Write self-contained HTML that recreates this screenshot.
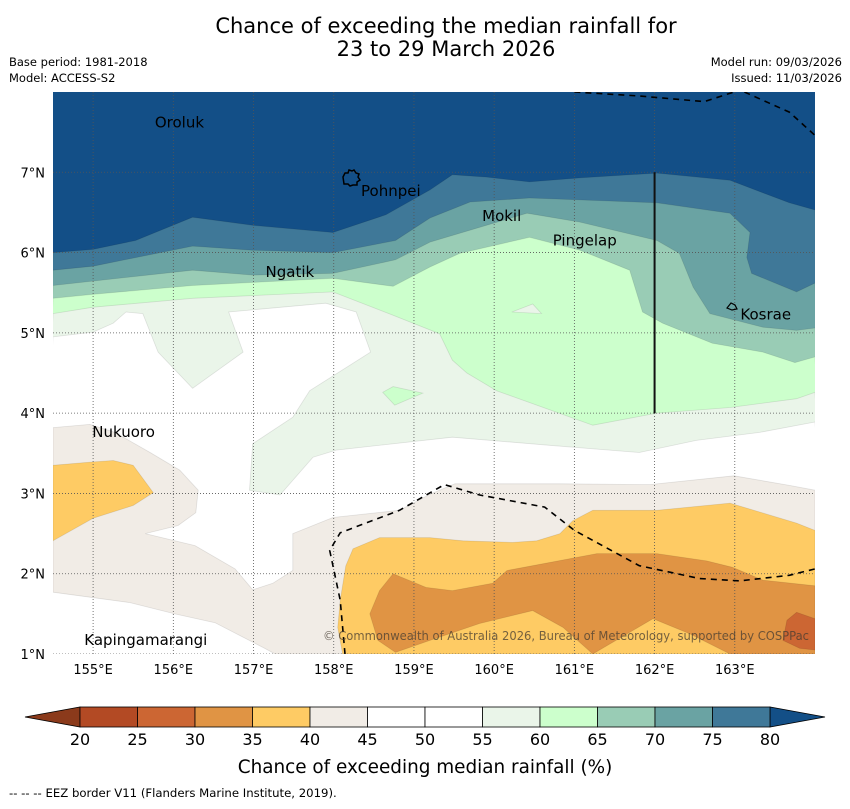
<!DOCTYPE html>
<html><head><meta charset="utf-8"><style>
body{margin:0;background:#fff;}
svg text{font-family:"DejaVu Sans","Liberation Sans",sans-serif;}
</style></head><body>
<svg id="chart" width="850" height="804" viewBox="0 0 850 804" xmlns="http://www.w3.org/2000/svg">
<rect width="850" height="804" fill="#fff"/>
<text x="446" y="33" font-size="21" text-anchor="middle">Chance of exceeding the median rainfall for</text>
<text x="446" y="56" font-size="21" text-anchor="middle">23 to 29 March 2026</text>
<text x="9" y="66" font-size="11.5">Base period: 1981-2018</text>
<text x="9" y="82" font-size="11.5">Model: ACCESS-S2</text>
<text x="842" y="66" font-size="11.5" text-anchor="end">Model run: 09/03/2026</text>
<text x="842" y="82" font-size="11.5" text-anchor="end">Issued: 11/03/2026</text>
<defs><clipPath id="mapclip"><rect x="53" y="92" width="762" height="562"/></clipPath></defs>
<g id="map" clip-path="url(#mapclip)"></g>
<g id="axes"></g>
<g id="cbar"></g>
<text x="425" y="773" font-size="18.4" text-anchor="middle">Chance of exceeding median rainfall (%)</text>
<text x="9" y="797" font-size="11.7">--  --  -- EEZ border V11 (Flanders Marine Institute, 2019).</text>
</svg>
<script>
const lonTicks=[155,156,157,158,159,160,161,162,163];
const latTicks=[1,2,3,4,5,6,7];
const cbLevels=[20,25,30,35,40,45,50,55,60,65,70,75,80];
const cbColors=["#b34a24","#cc6633","#e09444","#fecb64","#f1ece6","#ffffff","#ffffff","#eaf5e9","#ccffcc","#99ccb5","#6aa3a3","#3f7898"];
const underColor="#8b3a1b", overColor="#134f87";
const b80Lon=[154.5,155,155.53,156.24,156.99,157.99,158.65,159.2,159.48,159.91,160.44,161.07,162.03,162.94,163.68,164];
const b80Lat=[6.0,6.04,6.15,6.44,6.34,6.25,6.47,6.78,6.97,6.94,6.88,6.93,6.99,6.9,6.62,6.53];
const b75Lon=[154.5,155,156.24,156.99,157.99,158.77,159.2,159.7,160.44,162.03,162.94,163.19,163.15,163.21,163.77,164];
const b75Lat=[5.78,5.83,6.08,6.03,6.0,6.15,6.43,6.63,6.68,6.62,6.49,6.25,5.94,5.74,5.51,5.62];
const b70Lon=[154.5,156.24,156.99,157.99,158.77,159.2,160.41,161.07,162.03,162.31,162.48,162.69,163.35,163.77,164];
const b70Lat=[5.59,5.78,5.72,5.74,5.91,6.13,6.49,6.38,6.15,5.99,5.57,5.24,5.07,5.03,5.06];
const b65Lon=[154.5,155,156.24,157.99,158.74,159.2,159.57,160.44,161.07,161.69,161.85,162.1,162.72,163.35,163.75,164];
const b65Lat=[5.43,5.48,5.59,5.68,5.58,5.82,5.99,6.19,6.03,5.78,5.26,5.12,4.87,4.76,4.63,4.7];
const b60Lon=[154.5,155,156.24,157.99,158.74,159.32,159.48,159.66,160.03,161.23,162.03,162.94,163.77,164];
const b60Lat=[5.24,5.32,5.43,5.51,5.22,4.99,4.66,4.5,4.28,3.85,4.0,4.07,4.18,4.26];
const b55Lon=[154.5,155,155.25,155.41,155.62,155.81,156.24,156.87,156.69,157.9,158.28,158.46,157.7,157.49,156.99,156.95,157.33,157.74,158.03,159.48,160.69,161.81,162.52,163.31,164];
const b55Lat=[4.95,5.01,5.12,5.26,5.24,4.76,4.31,4.76,5.26,5.37,5.26,4.76,4.28,3.95,3.62,3.04,2.98,3.45,3.54,3.7,3.6,3.51,3.66,3.76,3.89];
const beigeLon=[154.5,154.96,155.27,155.71,156.08,156.31,156.28,156.06,155.65,156.27,156.77,156.99,157.24,157.49,157.49,157.99,158.82,159.2,159.51,160.82,161.94,162.99,163.68,164,164,157.27,157.14,156.52,156.02,155.46,154.5];
const beigeLat=[3.82,3.86,3.76,3.51,3.29,3.04,2.76,2.6,2.5,2.35,2.06,1.8,1.88,2.04,2.5,2.7,2.79,2.99,3.12,3.12,3.11,3.22,3.1,3.04,1.0,1.0,1.07,1.39,1.5,1.64,1.77];
const orangeLeftLon=[154.5,154.96,155.25,155.5,155.75,155.5,155.0,154.5];
const orangeLeftLat=[3.35,3.39,3.41,3.35,3.01,2.85,2.69,2.41];
const orangeLon=[158.11,158.05,158.08,158.15,158.24,158.57,159.2,159.61,160.23,160.53,160.82,160.98,161.23,162.03,162.94,163.77,164,164];
const orangeLat=[1.0,1.33,1.67,2.1,2.31,2.45,2.45,2.41,2.39,2.41,2.5,2.66,2.79,2.79,2.88,2.63,2.54,1.0];
const dkOrangeLon=[158.77,158.55,158.45,158.57,158.74,159.15,159.48,159.98,160.16,161.28,162.03,162.65,162.97,163.35,164,164,162.94,162.44,161.98,161.23,160.86,160.48,159.82,159.2];
const dkOrangeLat=[1.02,1.17,1.5,1.79,2.0,1.83,1.79,1.88,2.04,2.25,2.25,2.16,2.08,1.92,1.85,1.0,1.0,1.25,1.44,1.0,1.33,1.54,1.38,1.17];
const redLon=[163.6,163.65,163.77,164,164,163.81];
const redLat=[1.17,1.42,1.52,1.44,1.05,1.07];
const isl60Lon=[158.61,158.74,159.11,158.76]; const isl60Lat=[4.26,4.33,4.25,4.10];
const isl55Lon=[160.22,160.48,160.59]; const isl55Lat=[5.26,5.36,5.24];
const eez1Lon=[161.0,161.81,162.62,162.99]; const eez1Lat=[8,7.95,7.88,8];
const eez2Lon=[163.12,163.68,164]; const eez2Lat=[8,7.75,7.46];
const eez3Lon=[158.14,158.08,157.95,158.08,158.82,159.38,159.82,160.63,161.0,161.81,162.56,163.06,163.68,164];
const eez3Lat=[1.0,1.67,2.29,2.51,2.79,3.11,2.98,2.83,2.54,2.1,1.94,1.91,1.98,2.06];
const islandNames=["Oroluk","Pohnpei","Mokil","Pingelap","Ngatik","Kosrae","Nukuoro","Kapingamarangi"];
const islandLon=[155.77,158.34,159.85,160.73,157.15,163.07,154.99,154.89];
const islandLat=[7.58,6.73,6.42,6.11,5.72,5.19,3.73,1.14];

const NS="http://www.w3.org/2000/svg";
const x0=53,x1=815,y0=92,y1=654,lonMin=154.5,lonMax=164,latMin=1,latMax=8;
function X(lon){return x0+(lon-lonMin)/(lonMax-lonMin)*(x1-x0);}
function Y(lat){return y1-(lat-latMin)/(latMax-latMin)*(y1-y0);}
function mk(tag,attrs,parent){const e=document.createElementNS(NS,tag);for(const k in attrs)e.setAttribute(k,attrs[k]);parent.appendChild(e);return e;}
function pts(lons,lats){return lons.map((v,i)=>X(v).toFixed(1)+","+Y(lats[i]).toFixed(1)).join(" ");}
const map=document.getElementById('map');
let r=mk('rect',{x:x0,y:y0,width:x1-x0,height:y1-y0,fill:overColor},map);


function band(lons,lats,color,name){
  const L=lons.concat([lonMax+0.2,lonMin-0.2]);const A=lats.concat([latMin-0.2,latMin-0.2]);
  const p=mk('polygon',{points:pts(L,A),fill:color,stroke:"rgba(0,0,0,0.1)","stroke-width":0.8},map);
  
  
}
band(b80Lon,b80Lat,cbColors[11],'band-75-80');
band(b75Lon,b75Lat,cbColors[10],'band-70-75');
band(b70Lon,b70Lat,cbColors[9],'band-65-70');
band(b65Lon,b65Lat,cbColors[8],'band-60-65');
band(b60Lon,b60Lat,cbColors[7],'band-55-60');
band(b55Lon,b55Lat,cbColors[6],'band-45-55');
function region(lons,lats,color,name){
  const p=mk('polygon',{points:pts(lons,lats),fill:color,stroke:"rgba(0,0,0,0.1)","stroke-width":0.8},map);
  
  
}
region(isl60Lon,isl60Lat,cbColors[8],'island-60-65');
region(isl55Lon,isl55Lat,cbColors[7],'island-55-60');
region(beigeLon,beigeLat,cbColors[4],'region-40-45');
region(orangeLeftLon,orangeLeftLat,cbColors[3],'region-35-40-west');
region(orangeLon,orangeLat,cbColors[3],'region-35-40');
region(dkOrangeLon,dkOrangeLat,cbColors[2],'region-30-35');
region(redLon,redLat,cbColors[1],'region-25-30');
for(const t of lonTicks){let l=mk('line',{x1:X(t),x2:X(t),y1:y0,y2:y1,stroke:"#555","stroke-width":0.8,"stroke-dasharray":"1,2"},map);

}
for(const t of latTicks){let l=mk('line',{x1:x0,x2:x1,y1:Y(t),y2:Y(t),stroke:"#555","stroke-width":0.8,"stroke-dasharray":"1,2"},map);

}
[[eez1Lon,eez1Lat],[eez2Lon,eez2Lat],[eez3Lon,eez3Lat]].forEach(a=>{
  let l=mk('polyline',{points:pts(a[0],a[1]),fill:"none",stroke:"#000","stroke-width":1.6,"stroke-dasharray":"6,5"},map);
  
  
});
let vl=mk('line',{x1:X(162),x2:X(162),y1:Y(7),y2:Y(4),stroke:"#111","stroke-width":2},map);


let po=mk('path',{d:"M343,177 l2,-4 l3,0 l1,-3 l3,1 l2,-1 l2,3 l3,1 l-1,3 l2,3 l-3,2 l0,3 l-4,0 l-3,1 l-2,-2 l-4,0 z",fill:"none",stroke:"#000","stroke-width":1.5},map);


let ko=mk('path',{d:"M727,308 l4,-5 l4,2 l2,4 l-5,1z",fill:"none",stroke:"#000","stroke-width":1.2},map);


islandNames.forEach((n,i)=>{
  let t=mk('text',{x:X(islandLon[i]),y:Y(islandLat[i])+2,"font-size":15},map);t.textContent=n;
  
  
});
let c=mk('text',{x:323,y:640,"font-size":12,fill:"rgba(70,60,50,0.75)",textLength:486,lengthAdjust:"spacingAndGlyphs"},map);c.textContent="© Commonwealth of Australia 2026, Bureau of Meteorology, supported by COSPPac";


const axes=document.getElementById('axes');
for(const t of lonTicks){let e=mk('text',{x:X(t),y:674,"font-size":13,"text-anchor":"middle"},axes);e.textContent=t+"°E";

}
for(const t of latTicks){let e=mk('text',{x:45,y:Y(t)+5,"font-size":13,"text-anchor":"end"},axes);e.textContent=t+"°N";

}
const cb=document.getElementById('cbar');
const cbx0=80,cbx1=770,cby0=707,cby1=727;
function CX(v){return cbx0+(v-cbLevels[0])/(cbLevels[cbLevels.length-1]-cbLevels[0])*(cbx1-cbx0);}
let tl=mk('polygon',{points:`25,717 ${cbx0},${cby0} ${cbx0},${cby1}`,fill:underColor,stroke:"#000","stroke-width":0.8},cb);


let tr=mk('polygon',{points:`825,717 ${cbx1},${cby0} ${cbx1},${cby1}`,fill:overColor,stroke:"#000","stroke-width":0.8},cb);


for(let i=0;i<cbColors.length;i++){
  let b=mk('rect',{x:CX(cbLevels[i]),y:cby0,width:CX(cbLevels[i+1])-CX(cbLevels[i]),height:cby1-cby0,fill:cbColors[i],stroke:"#000","stroke-width":0.8},cb);
  
  
}
cbLevels.forEach(v=>{let t=mk('text',{x:CX(v),y:745,"font-size":16,"text-anchor":"middle"},cb);t.textContent=v;

});
</script>
</body></html>
